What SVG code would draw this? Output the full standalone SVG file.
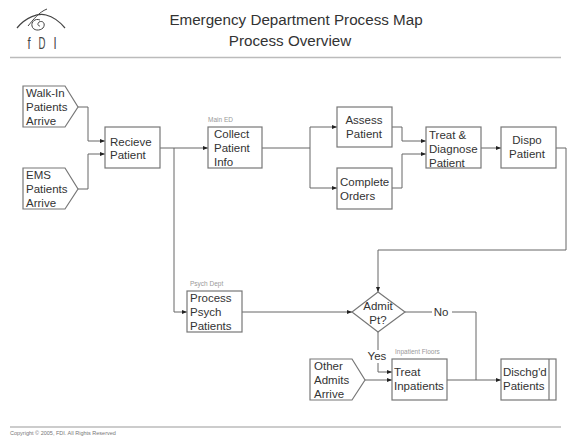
<svg xmlns="http://www.w3.org/2000/svg" width="571" height="436" viewBox="0 0 571 436">
<style>
.s{fill:#fff;stroke:#777;stroke-width:1.2}
.c{fill:none;stroke:#666;stroke-width:1}
.r{stroke:#bbb;stroke-width:1.6;fill:none}
text{font-family:"Liberation Sans",Arial,sans-serif;fill:#333}
.t{font-size:11.500px}
.m{text-anchor:middle}
.g{font-size:6.500px;fill:#999}
.h{font-size:15.200px;text-anchor:middle;fill:#333}
.f{font-size:16px;fill:#444;text-anchor:middle}
</style>
<defs>
<marker id="a" markerUnits="userSpaceOnUse" markerWidth="6" markerHeight="6" refX="5" refY="3" orient="auto"><path d="M0 1L5 3L0 5z" fill="#222"/></marker>
</defs>
<rect width="571" height="436" fill="#fff"/>
<g id="header">
<g id="logo" fill="none" stroke="#444">
<path d="M17 28C26 17 38 13 46 15C54 17 60 22 65 28" stroke-width="1.200"/>
<path d="M28 26C33 20 39 12 47 9" stroke-width="1"/>
<path d="M40 20C35 18 31 22 32 26C33 31 40 31 43 28C46 24 43 20 39 22C37 24 38 26 40 26" stroke-width="1"/>
</g>
<text class="f" transform="translate(29 49) scale(.7 1)">f</text><text class="f" transform="translate(42 49) scale(.6 1)">D</text><text class="f" transform="translate(55 49) scale(.7 1)">I</text>
<text class="h" x="296" y="25">Emergency Department Process Map</text>
<text class="h" x="290" y="46">Process Overview</text>
<path class="r" d="M10 57.500H561"/>
</g>
<g id="connectors">
<path class="c" d="M78 107H88V141H105" marker-end="url(#a)"/>
<path class="c" d="M78 189H88V154H105" marker-end="url(#a)"/>
<path class="c" d="M160 148H208" marker-end="url(#a)"/>
<path class="c" d="M174 148V312H187" marker-end="url(#a)"/>
<path class="c" d="M262 148H310"/>
<path class="c" d="M310 148V127H337" marker-end="url(#a)"/>
<path class="c" d="M310 148V188H337" marker-end="url(#a)"/>
<path class="c" d="M392 127H402V141H426" marker-end="url(#a)"/>
<path class="c" d="M392 188H402V154H426" marker-end="url(#a)"/>
<path class="c" d="M481 148H501" marker-end="url(#a)"/>
<path class="c" d="M556 148H566V250H378V292" marker-end="url(#a)"/>
<path class="c" d="M242 312H352" marker-end="url(#a)"/>
<path class="c" d="M378 332V372H392" marker-end="url(#a)"/>
<path class="c" d="M365 380H392" marker-end="url(#a)"/>
<path class="c" d="M447 380H501" marker-end="url(#a)"/>
<path class="c" d="M405 312H476V380"/>
<rect x="366" y="350" width="24" height="13" fill="#fff"/>
<text class="t m" x="377" y="360">Yes</text>
<rect x="432" y="305" width="20" height="14" fill="#fff"/>
<text class="t m" x="441" y="316">No</text>
</g>
<g id="walkin"><path class="s" d="M23 86H65L78 107L65 127H23z"/><text class="t"><tspan x="26" y="97">Walk-In</tspan><tspan x="26" y="111">Patients</tspan><tspan x="26" y="125">Arrive</tspan></text></g>
<g id="ems"><path class="s" d="M23 168H65L78 189L65 209H23z"/><text class="t"><tspan x="26" y="179">EMS</tspan><tspan x="26" y="193">Patients</tspan><tspan x="26" y="207">Arrive</tspan></text></g>
<g id="recieve"><rect class="s" x="105" y="127" width="55" height="41"/><text class="t"><tspan x="110" y="146">Recieve</tspan><tspan x="110" y="159">Patient</tspan></text></g>
<g id="collect"><text class="g" x="208" y="122">Main ED</text><rect class="s" x="208" y="127" width="54" height="41"/><text class="t"><tspan x="214" y="138">Collect</tspan><tspan x="214" y="152">Patient</tspan><tspan x="214" y="166">Info</tspan></text></g>
<g id="assess"><rect class="s" x="337" y="107" width="55" height="40"/><text class="t m"><tspan x="364" y="124">Assess</tspan><tspan x="364" y="138">Patient</tspan></text></g>
<g id="complete"><rect class="s" x="337" y="168" width="55" height="41"/><text class="t"><tspan x="340" y="186">Complete</tspan><tspan x="340" y="200">Orders</tspan></text></g>
<g id="treat"><rect class="s" x="426" y="127" width="55" height="41"/><text class="t"><tspan x="429" y="139">Treat &amp;</tspan><tspan x="429" y="153">Diagnose</tspan><tspan x="429" y="167">Patient</tspan></text></g>
<g id="dispo"><rect class="s" x="501" y="127" width="55" height="41"/><text class="t m"><tspan x="527" y="144">Dispo</tspan><tspan x="527" y="158">Patient</tspan></text></g>
<g id="psych"><text class="g" x="190" y="286">Psych Dept</text><rect class="s" x="187" y="291" width="55" height="41"/><text class="t"><tspan x="190" y="302">Process</tspan><tspan x="190" y="316">Psych</tspan><tspan x="190" y="330">Patients</tspan></text></g>
<g id="admit"><path class="s" d="M378 292L405 312L378 332L352 312z"/><text class="t m"><tspan x="378" y="310">Admit</tspan><tspan x="378" y="324">Pt?</tspan></text></g>
<g id="other"><path class="s" d="M310 359H352L365 380L352 400H310z"/><text class="t"><tspan x="314" y="370">Other</tspan><tspan x="314" y="384">Admits</tspan><tspan x="314" y="398">Arrive</tspan></text></g>
<g id="inpatients"><text class="g" x="395" y="354">Inpatient Floors</text><rect class="s" x="392" y="359" width="55" height="41"/><text class="t"><tspan x="394" y="376">Treat</tspan><tspan x="394" y="390">Inpatients</tspan></text></g>
<g id="dischg"><rect class="s" x="501" y="359" width="55" height="41"/><path class="s" d="M549 359V400"/><text class="t"><tspan x="503" y="376">Dischg'd</tspan><tspan x="503" y="390">Patients</tspan></text></g>
<g id="footer"><path class="r" d="M10 427H561"/><text x="10" y="435" style="font-size:5.500px;fill:#777">Copyright © 2005, FDI. All Rights Reserved</text></g>
</svg>
